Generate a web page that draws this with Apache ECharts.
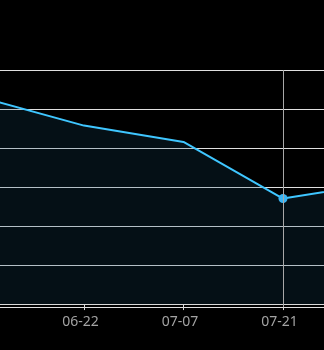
<!DOCTYPE html>
<html>
<head>
<meta charset="utf-8">
<style>
  html, body { margin: 0; padding: 0; background: #000; }
  #chart { width: 324px; height: 350px; }
</style>
<script src="https://cdn.jsdelivr.net/npm/echarts@6/dist/echarts.min.js"></script>
</head>
<body>
<div id="chart"></div>
<script>
const categories = ['06-07', '06-22', '07-07', '07-21', '08-04'];
const values = [105.5, 91.5, 83.1, 54.1, 62.3];
const highlightIndex = 3;

const chart = echarts.init(document.getElementById('chart'), null, { renderer: 'canvas' });
chart.setOption({
  backgroundColor: '#000',
  animation: false,
  grid: { left: -15.5, right: -58.5, top: 70, bottom: 43, containLabel: false, outerBoundsMode: 'none' },
  tooltip: {
    trigger: 'axis',
    showContent: false,
    axisPointer: { type: 'line', lineStyle: { color: '#a8a8a8', width: 1, type: 'solid' } }
  },
  xAxis: {
    type: 'category',
    data: categories,
    boundaryGap: false,
    axisLine: { lineStyle: { color: '#d8d8d8', width: 1 } },
    axisTick: { show: true, alignWithLabel: true, length: 6, lineStyle: { color: '#d8d8d8' } },
    axisLabel: { color: '#a3a3a3', fontSize: 14, fontFamily: 'Noto Sans', margin: 8, interval: 0, padding: [0, 7, 0, 0] },
    splitLine: { show: false }
  },
  yAxis: {
    type: 'value',
    min: -1.5,
    max: 120,
    splitNumber: 6,
    axisLine: { show: false },
    axisTick: { show: false },
    axisLabel: { show: false },
    splitLine: { lineStyle: { color: '#e0e0e0', width: 1 } }
  },
  series: [{
    type: 'line',
    data: values,
    showSymbol: false,
    symbol: 'circle',
    symbolSize: 9,
    lineStyle: { color: '#3ab4f2', width: 2 },
    itemStyle: { color: '#3ab4f2' },
    areaStyle: { color: 'rgba(20,70,95,0.3)' },
    emphasis: { scale: false }
  }]
});
chart.dispatchAction({ type: 'showTip', seriesIndex: 0, dataIndex: highlightIndex });
</script>
</body>
</html>
